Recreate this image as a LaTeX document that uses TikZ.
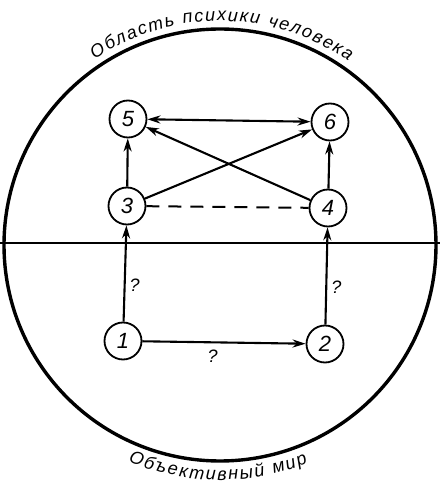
\documentclass[tikz,border=0pt]{standalone}
\usepackage{fontspec}
\setmainfont{Liberation Sans}
\usetikzlibrary{arrows.meta,decorations.text}

\begin{document}
\begin{tikzpicture}[
 x=1pt,y=1pt,
 every node/.style={font=\fontsize{22}{24}\selectfont\itshape},
 num/.style={draw,circle,line width=1.8pt,minimum size=37pt,inner sep=0pt},
 arr/.style={-{Stealth[length=13pt,width=8pt,inset=4pt]},line width=2.1pt},
 darr/.style={{Stealth[length=13pt,width=8pt,inset=4pt]}-{Stealth[length=13pt,width=8pt,inset=4pt]},line width=2.1pt},
 qmark/.style={font=\fontsize{18}{20}\selectfont\itshape,inner sep=4pt}
]
\useasboundingbox (0,0) rectangle (440,485);
% outer circle and border line
\draw[line width=3.4pt] (220,240) circle (216);
\draw[line width=2.2pt] (0,242) -- (440,242);
% captions along the circle
\path[decorate,decoration={text along path,text align=fit to path,
 text={|\fontsize{18}{20}\selectfont\itshape|Область психики человека}}]
 (220,240) ++(124:224) arc (124:55:224);
\path[decorate,decoration={text along path,text align=fit to path,
 text={|\fontsize{18}{20}\selectfont\itshape|Объективный мир}}]
 (220,240) ++(247:235) arc (247:292:235);
% nodes
\node[num] (n1) at (123,144) {1};
\node[num] (n2) at (325,141) {2};
\node[num] (n3) at (127,279) {3};
\node[num] (n4) at (328,277) {4};
\node[num] (n5) at (128,366) {5};
\node[num] (n6) at (330,363) {6};
% connections
\draw[arr] (n1)--node[qmark,pos=.38,right]{?}(n3);
\draw[arr] (n2)--node[qmark,pos=.38,right]{?}(n4);
\draw[arr] (n1)--node[qmark,pos=.43,below=3pt]{?}(n2);
\draw[arr] (n3)--(n5);
\draw[arr] (n4)--(n6);
\draw[darr] (n5)--(n6);
\draw[arr] (n3)--(n6);
\draw[arr] (n4)--(n5);
\draw[line width=2pt,dash pattern=on 13pt off 9pt] (n3)--(n4);
\end{tikzpicture}
\end{document}
